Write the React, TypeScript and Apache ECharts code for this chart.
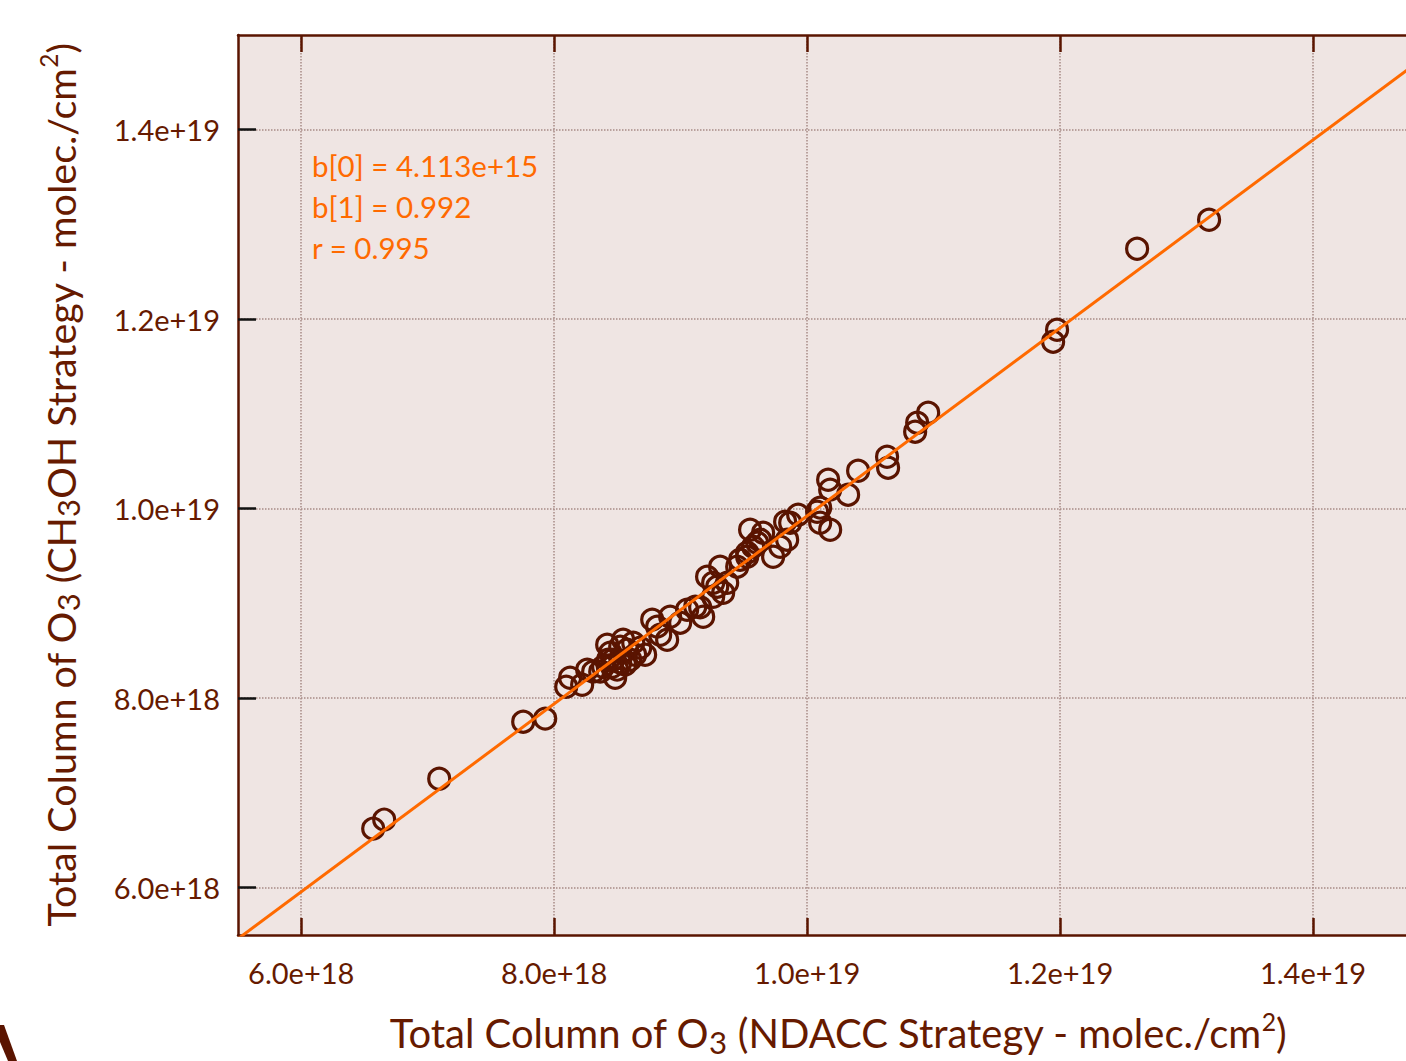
import React, { useEffect, useRef } from 'react';
import * as echarts from 'echarts';

// Total column of O3, NDACC strategy (x) vs CH3OH strategy (y), molec./cm2
const ndaccX = [
  6.569e18, 6.656e18, 7.091e18, 7.755e18, 7.929e18, 8.095e18, 8.126e18, 8.221e18, 8.261e18, 8.308e18,
  8.387e18, 8.443e18, 8.466e18, 8.498e18, 8.522e18, 8.545e18, 8.577e18, 8.601e18, 8.625e18, 8.419e18,
  8.482e18, 8.561e18, 8.680e18, 8.364e18, 8.458e18, 8.775e18, 8.814e18, 8.893e18, 8.917e18, 8.996e18,
  9.051e18, 9.115e18, 9.154e18, 9.178e18, 9.209e18, 9.257e18, 9.257e18, 9.289e18, 9.312e18, 9.336e18,
  9.368e18, 9.447e18, 9.470e18, 9.526e18, 9.526e18, 9.573e18, 9.549e18, 9.605e18, 9.628e18, 9.652e18,
  9.731e18, 9.787e18, 9.826e18, 9.842e18, 9.929e18, 1.0079e19, 1.0103e19, 1.0103e19, 1.0166e19, 1.0182e19,
  1.0182e19, 1.0324e19, 1.0403e19, 1.0632e19, 1.0640e19, 1.0854e19, 1.0870e19, 1.0957e19, 1.1976e19, 1.1945e19,
  1.2609e19, 1.3178e19, 9.866e18, 8.838e18, 8.719e18, 8.522e18, 8.640e18, 8.427e18,
];
const ch3ohY = [
  6.623e18, 6.718e18, 7.150e18, 7.752e18, 7.784e18, 8.121e18, 8.216e18, 8.142e18, 8.301e18, 8.280e18,
  8.332e18, 8.480e18, 8.406e18, 8.301e18, 8.544e18, 8.617e18, 8.512e18, 8.406e18, 8.586e18, 8.565e18,
  8.216e18, 8.354e18, 8.533e18, 8.280e18, 8.332e18, 8.829e18, 8.755e18, 8.617e18, 8.860e18, 8.797e18,
  8.934e18, 8.966e18, 8.960e18, 8.860e18, 9.282e18, 9.071e18, 9.219e18, 9.177e18, 9.388e18, 9.113e18,
  9.219e18, 9.388e18, 9.462e18, 9.536e18, 9.493e18, 9.599e18, 9.778e18, 9.641e18, 9.673e18, 9.747e18,
  9.493e18, 9.599e18, 9.863e18, 9.673e18, 9.937e18, 9.968e18, 1.0011e19, 9.852e18, 1.0306e19, 1.0201e19,
  9.778e18, 1.0148e19, 1.0401e19, 1.0549e19, 1.0433e19, 1.0813e19, 1.0908e19, 1.1013e19, 1.1889e19, 1.1763e19,
  1.2744e19, 1.3050e19, 9.852e18, 8.670e18, 8.459e18, 8.375e18, 8.459e18, 8.406e18,
];
const xTicks = [6e18, 8e18, 1e19, 1.2e19, 1.4e19];
const yTicks = [6e18, 8e18, 1e19, 1.2e19, 1.4e19];
const fitX = [5.5e18, 1.5e19];
const fitY = [5.46e18, 1.4884e19];
const statLines = ['b[0] = 4.113e+15', 'b[1] = 0.992', 'r = 0.995'];

const FONT = 'Lato, "Open Sans", sans-serif';
const TEXT = '#661a00';
const BROWN = '#5a1400';
const ORANGE = '#ff6a00';

const fmt = (v: number) => {
  const e = Math.floor(Math.log10(v) + 1e-9);
  const m = v / Math.pow(10, e);
  return m.toFixed(1) + 'e+' + e;
};

export default function App() {
  const ref = useRef<HTMLDivElement>(null);
  useEffect(() => {
    const chart = echarts.init(ref.current!, null, { renderer: 'svg' });
    const xRange = { min: 5.5e18, max: 1.4735e19 };
    const yRange = { min: 5.5e18, max: 1.5e19 };
    const mkRich = (size: number) => ({
      a: { fontSize: size, fontFamily: FONT, fill: TEXT, lineHeight: 48 },
      s: { fontSize: size * 0.78, fontFamily: FONT, fill: TEXT, lineHeight: 28, verticalAlign: 'bottom' },
      p: { fontSize: size * 0.62, fontFamily: FONT, fill: TEXT, lineHeight: 38, verticalAlign: 'top' },
    });
    chart.setOption({
      animation: false,
      backgroundColor: '#ffffff',
      grid: {
        left: 238, top: 35, right: 0, bottom: 126,
        show: true, backgroundColor: '#efe5e3', borderWidth: 0,
      },
      xAxis: [
        {
          type: 'value', position: 'bottom', ...xRange,
          axisLine: { show: true, onZero: false, lineStyle: { color: BROWN, width: 2.5 } },
          axisTick: { show: true, inside: true, length: 17, customValues: xTicks, lineStyle: { color: BROWN, width: 2.5 } },
          axisLabel: { customValues: xTicks, formatter: fmt, margin: 23, color: TEXT, fontSize: 29, fontFamily: FONT, showMaxLabel: true },
          splitLine: { show: true, lineStyle: { color: '#a88b87', type: 'dotted', width: 1.5 } },
        },
        {
          type: 'value', position: 'top', ...xRange,
          axisLine: { show: true, onZero: false, lineStyle: { color: BROWN, width: 2.5 } },
          axisTick: { show: true, inside: true, length: 17, customValues: xTicks, lineStyle: { color: BROWN, width: 2.5 } },
          axisLabel: { show: false },
          splitLine: { show: false },
        },
      ],
      yAxis: [
        {
          type: 'value', ...yRange,
          axisLine: { show: true, onZero: false, lineStyle: { color: BROWN, width: 2.5 } },
          axisTick: { show: true, inside: true, length: 18, customValues: yTicks, lineStyle: { color: '#111111', width: 2.5 } },
          axisLabel: { customValues: yTicks, formatter: fmt, margin: 18, color: TEXT, fontSize: 29, fontFamily: FONT },
          splitLine: { show: true, lineStyle: { color: '#a88b87', type: 'dotted', width: 1.5 } },
        },
      ],
      series: [
        {
          type: 'scatter', xAxisIndex: 0, yAxisIndex: 0,
          data: ndaccX.map((x, i) => [x, ch3ohY[i]]),
          symbol: 'circle', symbolSize: 21,
          itemStyle: { color: 'rgba(0,0,0,0)', borderColor: BROWN, borderWidth: 3.2, opacity: 1 },
          z: 2,
        },
        {
          type: 'line', xAxisIndex: 0, yAxisIndex: 0,
          data: fitX.map((x, i) => [x, fitY[i]]),
          showSymbol: false, symbol: 'none', clip: true,
          lineStyle: { color: ORANGE, width: 3 },
          z: 3,
        },
      ],
      graphic: [
        ...statLines.map((t, i) => ({
          type: 'text', x: 312, y: 165 + i * 41, z: 10,
          style: { text: t, fill: ORANGE, fontSize: 29.5, fontFamily: FONT, textVerticalAlign: 'middle' },
        })),
        {
          type: 'text', x: 838, y: 1033, z: 10,
          style: {
            text: '{a|Total Column of O}{s|3}{a| (NDACC Strategy - molec./cm}{p|2}{a|)}',
            rich: mkRich(40), textAlign: 'center', textVerticalAlign: 'middle',
          },
        },
        {
          type: 'text', x: 60, y: 485, rotation: Math.PI / 2, z: 10,
          style: {
            text: '{a|Total Column of O}{s|3}{a| (CH}{s|3}{a|OH Strategy - molec./cm}{p|2}{a|)}',
            rich: mkRich(39.5), textAlign: 'center', textVerticalAlign: 'middle',
          },
        },
        {
          type: 'polygon', z: 10,
          shape: { points: [[0, 1025], [4, 1025], [17, 1061], [8, 1061], [0, 1042]] },
          style: { fill: BROWN },
        },
      ],
    });
    return () => chart.dispose();
  }, []);
  return (
    <div
      ref={ref}
      style={{ position: 'fixed', left: 0, top: 0, width: 1406, height: 1061, background: '#fff' }}
    />
  );
}
